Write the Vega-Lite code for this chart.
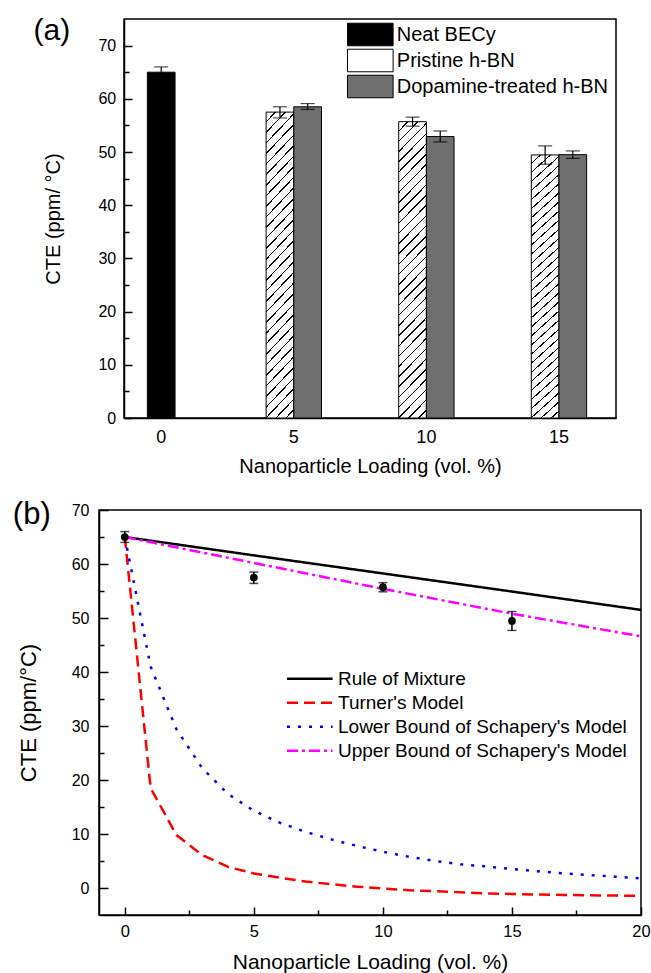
{
  "$schema": "https://vega.github.io/schema/vega-lite/v6.json",
  "background": "white",
  "padding": {"left": 12, "top": 15, "right": 0, "bottom": 0},
  "config": {
    "font": "Liberation Sans",
    "view": {"stroke": "#000", "strokeWidth": 1.5},
    "axis": {"domainColor": "#000", "domainWidth": 1.5, "tickColor": "#000", "tickWidth": 1.5, "labelColor": "#000", "titleColor": "#000", "titleFontWeight": "normal", "labelFont": "Liberation Sans", "titleFont": "Liberation Sans", "grid": false, "labelOverlap": false, "labelFlush": false},
    "legend": {"labelFont": "Liberation Sans", "labelColor": "#000", "labelLimit": 400},
    "title": {"font": "Liberation Sans", "color": "#000", "fontWeight": "normal"}
  },
  "datasets": {
    "bars": [
      {"loading": "0", "series": "Neat BECy", "cte": 65.0, "lo": 64.0, "hi": 66.0},
      {"loading": "5", "series": "Pristine h-BN", "cte": 57.5, "lo": 56.4, "hi": 58.5},
      {"loading": "5", "series": "Dopamine-treated h-BN", "cte": 58.5, "lo": 58.0, "hi": 59.1},
      {"loading": "10", "series": "Pristine h-BN", "cte": 55.7, "lo": 54.85, "hi": 56.55},
      {"loading": "10", "series": "Dopamine-treated h-BN", "cte": 52.9, "lo": 51.9, "hi": 53.95},
      {"loading": "15", "series": "Pristine h-BN", "cte": 49.45, "lo": 47.7, "hi": 51.15},
      {"loading": "15", "series": "Dopamine-treated h-BN", "cte": 49.5, "lo": 48.8, "hi": 50.2}
    ],
    "meas": [
      {"x": 0, "cte": 65.0, "lo": 64.0, "hi": 66.0},
      {"x": 5, "cte": 57.5, "lo": 56.4, "hi": 58.5},
      {"x": 10, "cte": 55.7, "lo": 54.85, "hi": 56.55},
      {"x": 15, "cte": 49.45, "lo": 47.7, "hi": 51.2}
    ],
    "curves": [
      {"series": "Rule of Mixture", "x": 0, "cte": 65.0},
      {"series": "Rule of Mixture", "x": 5, "cte": 61.6},
      {"series": "Rule of Mixture", "x": 10, "cte": 58.25},
      {"series": "Rule of Mixture", "x": 15, "cte": 54.9},
      {"series": "Rule of Mixture", "x": 20, "cte": 51.5},
      {"series": "Upper Bound of Schapery's Model", "x": 0, "cte": 65.0},
      {"series": "Upper Bound of Schapery's Model", "x": 5, "cte": 60.2},
      {"series": "Upper Bound of Schapery's Model", "x": 10, "cte": 55.4},
      {"series": "Upper Bound of Schapery's Model", "x": 15, "cte": 50.8},
      {"series": "Upper Bound of Schapery's Model", "x": 20, "cte": 46.6},
      {"series": "Turner's Model", "x": 0, "cte": 65.0},
      {"series": "Turner's Model", "x": 1, "cte": 18.5},
      {"series": "Turner's Model", "x": 2, "cte": 9.8},
      {"series": "Turner's Model", "x": 3, "cte": 6.1},
      {"series": "Turner's Model", "x": 4, "cte": 3.9},
      {"series": "Turner's Model", "x": 5, "cte": 2.7},
      {"series": "Turner's Model", "x": 6, "cte": 1.9},
      {"series": "Turner's Model", "x": 7, "cte": 1.2},
      {"series": "Turner's Model", "x": 8, "cte": 0.7},
      {"series": "Turner's Model", "x": 9, "cte": 0.25},
      {"series": "Turner's Model", "x": 10, "cte": -0.1},
      {"series": "Turner's Model", "x": 11, "cte": -0.4},
      {"series": "Turner's Model", "x": 12, "cte": -0.6},
      {"series": "Turner's Model", "x": 13, "cte": -0.8},
      {"series": "Turner's Model", "x": 14, "cte": -1.0},
      {"series": "Turner's Model", "x": 15, "cte": -1.1},
      {"series": "Turner's Model", "x": 16, "cte": -1.2},
      {"series": "Turner's Model", "x": 17, "cte": -1.3},
      {"series": "Turner's Model", "x": 18, "cte": -1.35},
      {"series": "Turner's Model", "x": 19, "cte": -1.4},
      {"series": "Turner's Model", "x": 20, "cte": -1.45},
      {"series": "Lower Bound of Schapery's Model", "x": 0, "cte": 65.0},
      {"series": "Lower Bound of Schapery's Model", "x": 1, "cte": 41.0},
      {"series": "Lower Bound of Schapery's Model", "x": 2, "cte": 29.4},
      {"series": "Lower Bound of Schapery's Model", "x": 3, "cte": 22.2},
      {"series": "Lower Bound of Schapery's Model", "x": 4, "cte": 17.4},
      {"series": "Lower Bound of Schapery's Model", "x": 5, "cte": 14.3},
      {"series": "Lower Bound of Schapery's Model", "x": 6, "cte": 12.1},
      {"series": "Lower Bound of Schapery's Model", "x": 7, "cte": 10.4},
      {"series": "Lower Bound of Schapery's Model", "x": 8, "cte": 9.0},
      {"series": "Lower Bound of Schapery's Model", "x": 9, "cte": 7.8},
      {"series": "Lower Bound of Schapery's Model", "x": 10, "cte": 6.7},
      {"series": "Lower Bound of Schapery's Model", "x": 11, "cte": 5.8},
      {"series": "Lower Bound of Schapery's Model", "x": 12, "cte": 5.0},
      {"series": "Lower Bound of Schapery's Model", "x": 13, "cte": 4.4},
      {"series": "Lower Bound of Schapery's Model", "x": 14, "cte": 4.0},
      {"series": "Lower Bound of Schapery's Model", "x": 15, "cte": 3.5},
      {"series": "Lower Bound of Schapery's Model", "x": 16, "cte": 3.1},
      {"series": "Lower Bound of Schapery's Model", "x": 17, "cte": 2.7},
      {"series": "Lower Bound of Schapery's Model", "x": 18, "cte": 2.4},
      {"series": "Lower Bound of Schapery's Model", "x": 19, "cte": 2.1},
      {"series": "Lower Bound of Schapery's Model", "x": 20, "cte": 1.8}
    ]
  },
  "bounds": "flush",
  "center": true,
  "spacing": 92,
  "vconcat": [
    {
      "title": {"text": "(a)", "orient": "left", "anchor": "end", "frame": "group", "angle": 0, "align": "right", "fontSize": 30, "baseline": "middle", "offset": -63, "dy": 12},
      "width": 492,
      "height": 399,
      "data": {"name": "bars"},
      "resolve": {"axis": {"y": "independent"}},
      "layer": [
        {
          "encoding": {
            "x": {"field": "loading", "type": "ordinal", "scale": {"domain": ["0", "5", "10", "15"], "paddingInner": 0.5825, "paddingOuter": 0.1466, "align": 0.245},
              "axis": {"title": "Nanoparticle Loading (vol. %)", "labelAngle": 0, "ticks": false, "tickSize": 0, "labelFontSize": 18, "labelPadding": 10.3, "titleFontSize": 20, "titlePadding": 10}},
            "y": {"field": "cte", "type": "quantitative", "scale": {"domain": [0, 75], "nice": false},
              "axis": {"title": "CTE (ppm/ °C)", "orient": "left", "values": [0, 10, 20, 30, 40, 50, 60, 70], "tickSize": -8, "labelFontSize": 16, "labelPadding": 16.3, "titleFontSize": 20, "titlePadding": 34}}
          },
          "layer": [
            {
              "transform": [{"filter": "datum.series === 'Neat BECy'"}],
              "mark": {"type": "bar", "width": {"band": 0.5}, "stroke": "#000", "strokeWidth": 1},
              "encoding": {
                "fill": {"field": "series", "type": "nominal",
                  "scale": {"domain": ["Neat BECy", "Pristine h-BN", "Dopamine-treated h-BN"], "range": ["#000000", "#ffffff", "#6f6f6f"]},
                  "legend": {"title": null, "orient": "none", "legendX": 258.8, "legendY": 3, "padding": 0, "symbolType": "M-1.9,-0.94H1.9V0.94H-1.9Z", "symbolSize": 576, "symbolStrokeColor": "#000", "symbolStrokeWidth": 1, "labelFontSize": 20, "labelOffset": 14, "rowPadding": -6}
                }
              }
            },
            {
              "transform": [{"filter": "datum.series !== 'Neat BECy'"}],
              "mark": {"type": "bar", "stroke": "#000", "strokeWidth": 1},
              "encoding": {
                "xOffset": {"field": "series", "type": "nominal", "scale": {"domain": ["Pristine h-BN", "Dopamine-treated h-BN"], "paddingInner": 0, "paddingOuter": 0}},
                "fill": {"field": "series", "type": "nominal",
                  "scale": {"domain": ["Neat BECy", "Pristine h-BN", "Dopamine-treated h-BN"], "range": ["#000000", "#ffffff", "#6f6f6f"]},
                  "condition": {"test": "datum.series === 'Pristine h-BN'", "value": {"gradient": "linear", "x1": 0, "y1": 0, "x2": 0.1046, "y2": 1.0955, "stops": [
                    {"offset": 0, "color": "#fff"}, {"offset": 0.02656, "color": "#fff"}, {"offset": 0.02656, "color": "#000"}, {"offset": 0.03125, "color": "#000"},
                    {"offset": 0.03125, "color": "#fff"}, {"offset": 0.05781, "color": "#fff"}, {"offset": 0.05781, "color": "#000"}, {"offset": 0.0625, "color": "#000"},
                    {"offset": 0.0625, "color": "#fff"}, {"offset": 0.08906, "color": "#fff"}, {"offset": 0.08906, "color": "#000"}, {"offset": 0.09375, "color": "#000"},
                    {"offset": 0.09375, "color": "#fff"}, {"offset": 0.12031, "color": "#fff"}, {"offset": 0.12031, "color": "#000"}, {"offset": 0.125, "color": "#000"},
                    {"offset": 0.125, "color": "#fff"}, {"offset": 0.15156, "color": "#fff"}, {"offset": 0.15156, "color": "#000"}, {"offset": 0.15625, "color": "#000"},
                    {"offset": 0.15625, "color": "#fff"}, {"offset": 0.18281, "color": "#fff"}, {"offset": 0.18281, "color": "#000"}, {"offset": 0.1875, "color": "#000"},
                    {"offset": 0.1875, "color": "#fff"}, {"offset": 0.21406, "color": "#fff"}, {"offset": 0.21406, "color": "#000"}, {"offset": 0.21875, "color": "#000"},
                    {"offset": 0.21875, "color": "#fff"}, {"offset": 0.24531, "color": "#fff"}, {"offset": 0.24531, "color": "#000"}, {"offset": 0.25, "color": "#000"},
                    {"offset": 0.25, "color": "#fff"}, {"offset": 0.27656, "color": "#fff"}, {"offset": 0.27656, "color": "#000"}, {"offset": 0.28125, "color": "#000"},
                    {"offset": 0.28125, "color": "#fff"}, {"offset": 0.30781, "color": "#fff"}, {"offset": 0.30781, "color": "#000"}, {"offset": 0.3125, "color": "#000"},
                    {"offset": 0.3125, "color": "#fff"}, {"offset": 0.33906, "color": "#fff"}, {"offset": 0.33906, "color": "#000"}, {"offset": 0.34375, "color": "#000"},
                    {"offset": 0.34375, "color": "#fff"}, {"offset": 0.37031, "color": "#fff"}, {"offset": 0.37031, "color": "#000"}, {"offset": 0.375, "color": "#000"},
                    {"offset": 0.375, "color": "#fff"}, {"offset": 0.40156, "color": "#fff"}, {"offset": 0.40156, "color": "#000"}, {"offset": 0.40625, "color": "#000"},
                    {"offset": 0.40625, "color": "#fff"}, {"offset": 0.43281, "color": "#fff"}, {"offset": 0.43281, "color": "#000"}, {"offset": 0.4375, "color": "#000"},
                    {"offset": 0.4375, "color": "#fff"}, {"offset": 0.46406, "color": "#fff"}, {"offset": 0.46406, "color": "#000"}, {"offset": 0.46875, "color": "#000"},
                    {"offset": 0.46875, "color": "#fff"}, {"offset": 0.49531, "color": "#fff"}, {"offset": 0.49531, "color": "#000"}, {"offset": 0.5, "color": "#000"},
                    {"offset": 0.5, "color": "#fff"}, {"offset": 0.52656, "color": "#fff"}, {"offset": 0.52656, "color": "#000"}, {"offset": 0.53125, "color": "#000"},
                    {"offset": 0.53125, "color": "#fff"}, {"offset": 0.55781, "color": "#fff"}, {"offset": 0.55781, "color": "#000"}, {"offset": 0.5625, "color": "#000"},
                    {"offset": 0.5625, "color": "#fff"}, {"offset": 0.58906, "color": "#fff"}, {"offset": 0.58906, "color": "#000"}, {"offset": 0.59375, "color": "#000"},
                    {"offset": 0.59375, "color": "#fff"}, {"offset": 0.62031, "color": "#fff"}, {"offset": 0.62031, "color": "#000"}, {"offset": 0.625, "color": "#000"},
                    {"offset": 0.625, "color": "#fff"}, {"offset": 0.65156, "color": "#fff"}, {"offset": 0.65156, "color": "#000"}, {"offset": 0.65625, "color": "#000"},
                    {"offset": 0.65625, "color": "#fff"}, {"offset": 0.68281, "color": "#fff"}, {"offset": 0.68281, "color": "#000"}, {"offset": 0.6875, "color": "#000"},
                    {"offset": 0.6875, "color": "#fff"}, {"offset": 0.71406, "color": "#fff"}, {"offset": 0.71406, "color": "#000"}, {"offset": 0.71875, "color": "#000"},
                    {"offset": 0.71875, "color": "#fff"}, {"offset": 0.74531, "color": "#fff"}, {"offset": 0.74531, "color": "#000"}, {"offset": 0.75, "color": "#000"},
                    {"offset": 0.75, "color": "#fff"}, {"offset": 0.77656, "color": "#fff"}, {"offset": 0.77656, "color": "#000"}, {"offset": 0.78125, "color": "#000"},
                    {"offset": 0.78125, "color": "#fff"}, {"offset": 0.80781, "color": "#fff"}, {"offset": 0.80781, "color": "#000"}, {"offset": 0.8125, "color": "#000"},
                    {"offset": 0.8125, "color": "#fff"}, {"offset": 0.83906, "color": "#fff"}, {"offset": 0.83906, "color": "#000"}, {"offset": 0.84375, "color": "#000"},
                    {"offset": 0.84375, "color": "#fff"}, {"offset": 0.87031, "color": "#fff"}, {"offset": 0.87031, "color": "#000"}, {"offset": 0.875, "color": "#000"},
                    {"offset": 0.875, "color": "#fff"}, {"offset": 0.90156, "color": "#fff"}, {"offset": 0.90156, "color": "#000"}, {"offset": 0.90625, "color": "#000"},
                    {"offset": 0.90625, "color": "#fff"}, {"offset": 0.93281, "color": "#fff"}, {"offset": 0.93281, "color": "#000"}, {"offset": 0.9375, "color": "#000"},
                    {"offset": 0.9375, "color": "#fff"}, {"offset": 0.96406, "color": "#fff"}, {"offset": 0.96406, "color": "#000"}, {"offset": 0.96875, "color": "#000"},
                    {"offset": 0.96875, "color": "#fff"}, {"offset": 0.99531, "color": "#fff"}, {"offset": 0.99531, "color": "#000"}, {"offset": 1, "color": "#000"}
                  ]}}
                }
              }
            },
            {
              "transform": [{"filter": "datum.series === 'Neat BECy'"}],
              "mark": {"type": "rule", "color": "#000", "strokeWidth": 1.2},
              "encoding": {"y": {"field": "lo", "type": "quantitative"}, "y2": {"field": "hi"}}
            },
            {
              "transform": [{"filter": "datum.series === 'Neat BECy'"}],
              "mark": {"type": "tick", "orient": "horizontal", "size": 14, "thickness": 1.2, "color": "#000"},
              "encoding": {"y": {"field": "hi", "type": "quantitative"}}
            },
            {
              "transform": [{"filter": "datum.series !== 'Neat BECy'"}],
              "mark": {"type": "rule", "color": "#000", "strokeWidth": 1.2},
              "encoding": {
                "xOffset": {"field": "series", "type": "nominal", "scale": {"domain": ["Pristine h-BN", "Dopamine-treated h-BN"], "paddingInner": 0, "paddingOuter": 0}},
                "y": {"field": "lo", "type": "quantitative"}, "y2": {"field": "hi"}}
            },
            {
              "transform": [{"filter": "datum.series !== 'Neat BECy'"}],
              "mark": {"type": "tick", "orient": "horizontal", "size": 14, "thickness": 1.2, "color": "#000"},
              "encoding": {
                "xOffset": {"field": "series", "type": "nominal", "scale": {"domain": ["Pristine h-BN", "Dopamine-treated h-BN"], "paddingInner": 0, "paddingOuter": 0}},
                "y": {"field": "hi", "type": "quantitative"}}
            },
            {
              "transform": [{"filter": "datum.series !== 'Neat BECy'"}],
              "mark": {"type": "tick", "orient": "horizontal", "size": 14, "thickness": 1.2, "color": "#000"},
              "encoding": {
                "xOffset": {"field": "series", "type": "nominal", "scale": {"domain": ["Pristine h-BN", "Dopamine-treated h-BN"], "paddingInner": 0, "paddingOuter": 0}},
                "y": {"field": "lo", "type": "quantitative"}}
            }
          ]
        },
        {
          "mark": {"type": "tick", "opacity": 0},
          "encoding": {
            "y": {"field": "cte", "type": "quantitative", "axis": {"orient": "left", "values": [5, 15, 25, 35, 45, 55, 65], "labels": false, "domain": false, "title": null, "tickSize": -5}}
          }
        }
      ]
    },
    {
      "title": {"text": "(b)", "orient": "left", "anchor": "end", "frame": "group", "angle": 0, "align": "right", "fontSize": 31, "baseline": "middle", "offset": -71.4, "dy": 5},
      "width": 542,
      "height": 405,
      "resolve": {"axis": {"x": "independent", "y": "independent"}},
      "layer": [
        {
          "layer": [
            {
              "data": {"name": "curves"},
              "mark": {"type": "line", "strokeWidth": 2.5},
              "encoding": {
                "x": {"field": "x", "type": "quantitative", "scale": {"domain": [-1, 20], "nice": false, "zero": false},
                  "axis": {"title": "Nanoparticle Loading (vol. %)", "orient": "bottom", "values": [0, 5, 10, 15, 20], "tickSize": -8, "labelFontSize": 16.5, "labelPadding": 16.2, "titleFontSize": 21, "titlePadding": 12}},
                "y": {"field": "cte", "type": "quantitative", "scale": {"domain": [-5, 70], "nice": false, "zero": false},
                  "axis": {"title": "CTE (ppm/°C)", "orient": "left", "values": [0, 10, 20, 30, 40, 50, 60, 70], "tickSize": -9, "labelFontSize": 16, "labelPadding": 19, "titleFontSize": 22, "titlePadding": 31}},
                "color": {"field": "series", "type": "nominal",
                  "scale": {"domain": ["Rule of Mixture", "Turner's Model", "Lower Bound of Schapery's Model", "Upper Bound of Schapery's Model"], "range": ["#000000", "#ff0000", "#0000ff", "#ff00ff"]},
                  "legend": {"title": null, "orient": "none", "legendX": 197.3, "legendY": 646.3, "padding": 0, "symbolType": "M-1.9,0H1.9", "symbolSize": 576, "symbolStrokeWidth": 2.5, "labelFontSize": 19, "labelOffset": 14.7, "rowPadding": 0}},
                "strokeDash": {"field": "series", "type": "nominal",
                  "scale": {"domain": ["Rule of Mixture", "Turner's Model", "Lower Bound of Schapery's Model", "Upper Bound of Schapery's Model"], "range": [[1, 0], [11, 6], [3, 8], [11, 4, 3, 4]]}}
              }
            },
            {
              "data": {"name": "meas"},
              "mark": {"type": "rule", "color": "#000", "strokeWidth": 1.5},
              "encoding": {"x": {"field": "x", "type": "quantitative"}, "y": {"field": "lo", "type": "quantitative"}, "y2": {"field": "hi"}}
            },
            {
              "data": {"name": "meas"},
              "mark": {"type": "tick", "orient": "horizontal", "size": 9, "thickness": 1.5, "color": "#000"},
              "encoding": {"x": {"field": "x", "type": "quantitative"}, "y": {"field": "lo", "type": "quantitative"}}
            },
            {
              "data": {"name": "meas"},
              "mark": {"type": "tick", "orient": "horizontal", "size": 9, "thickness": 1.5, "color": "#000"},
              "encoding": {"x": {"field": "x", "type": "quantitative"}, "y": {"field": "hi", "type": "quantitative"}}
            },
            {
              "data": {"name": "meas"},
              "mark": {"type": "point", "shape": "circle", "filled": true, "size": 60, "color": "#000", "opacity": 1},
              "encoding": {"x": {"field": "x", "type": "quantitative"}, "y": {"field": "cte", "type": "quantitative"}}
            }
          ]
        },
        {
          "data": {"name": "meas"},
          "mark": {"type": "point", "opacity": 0},
          "encoding": {
            "x": {"field": "x", "type": "quantitative", "axis": {"orient": "bottom", "values": [2.5, 7.5, 12.5, 17.5], "labels": false, "domain": false, "title": null, "tickSize": -5}},
            "y": {"field": "cte", "type": "quantitative", "axis": {"orient": "left", "values": [5, 15, 25, 35, 45, 55, 65], "labels": false, "domain": false, "title": null, "tickSize": -5}}
          }
        }
      ]
    }
  ]
}
